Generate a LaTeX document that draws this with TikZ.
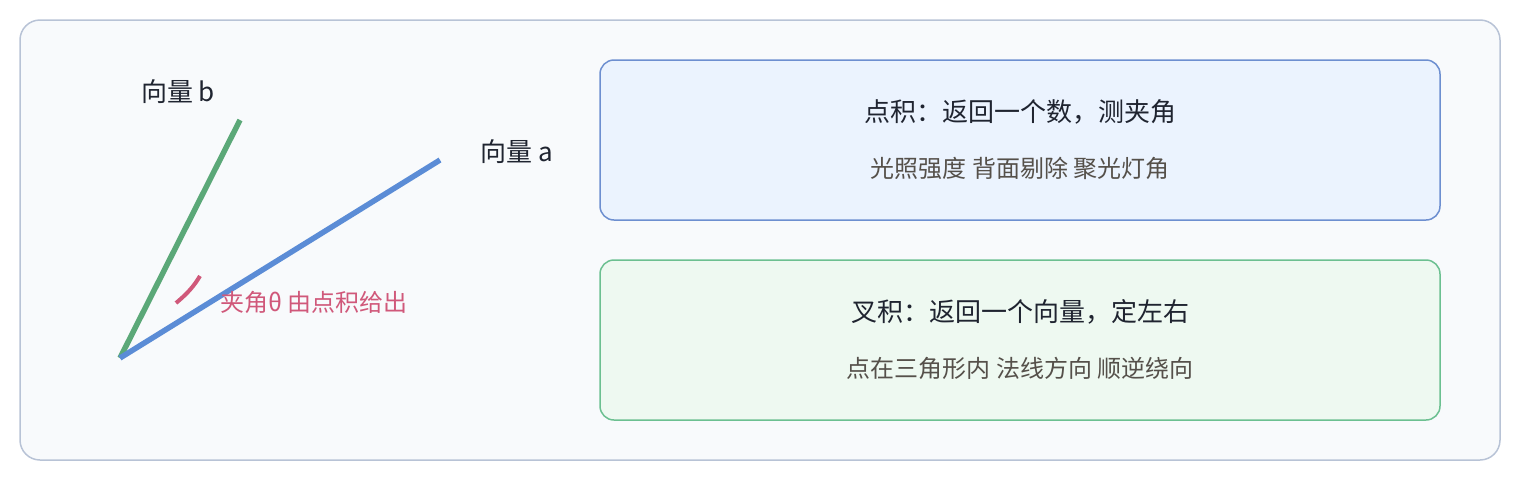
\documentclass[tikz,border=0pt]{standalone}
\usepackage{fontspec}
\setmainfont{Noto Sans CJK SC}
\definecolor{outerfill}{HTML}{F8FAFC}
\definecolor{outerdraw}{HTML}{B8C3D6}
\definecolor{bluefill}{HTML}{EBF3FE}
\definecolor{bluedraw}{HTML}{6D8FD0}
\definecolor{greenfill}{HTML}{EEF9F1}
\definecolor{greendraw}{HTML}{6CC091}
\definecolor{vecblue}{HTML}{5B8CD6}
\definecolor{vecgreen}{HTML}{5BA878}
\definecolor{anglepink}{HTML}{D0587A}
\definecolor{darktext}{HTML}{1F2430}
\definecolor{subtext}{HTML}{55504A}
\tikzset{
  card/.style={rounded corners=14pt, line width=1.5pt, minimum width=840pt, minimum height=160pt, inner sep=0pt},
  titletext/.style={font=\fontsize{26pt}{30pt}\selectfont, text=darktext, inner sep=0pt},
  subtitletext/.style={font=\fontsize{24pt}{28pt}\selectfont, text=subtext, inner sep=0pt},
  veclabel/.style={font=\fontsize{26pt}{30pt}\selectfont, text=darktext, inner sep=0pt},
  vecline/.style={line width=5.5pt},
}
\begin{document}
\begin{tikzpicture}[x=1pt,y=-1pt]
\useasboundingbox (0,0) rectangle (1520,480);
\draw[rounded corners=20pt, line width=1.5pt, draw=outerdraw, fill=outerfill] (20,20) rectangle (1500,460);
\node[card, draw=bluedraw, fill=bluefill] (dot) at (1020,140) {};
\node[card, draw=greendraw, fill=greenfill] (cross) at (1020,340) {};
\node[titletext] (dott) at (1020,112) {点积：返回一个数，测夹角};
\node[subtitletext] (dots) at (1020,168) {光照强度 背面剔除 聚光灯角};
\node[titletext] (crosst) at (1020,312) {叉积：返回一个向量，定左右};
\node[subtitletext] (crosss) at (1020,368) {点在三角形内 法线方向 顺逆绕向};
\coordinate (O) at (120,358);
\coordinate (A) at (440,160);
\coordinate (B) at (240,120);
\draw[vecline, draw=vecgreen] (O) -- (B);
\draw[vecline, draw=vecblue] (O) -- (A);
\coordinate (arcs) at (176,303);
\coordinate (arce) at (200,276);
\draw[line width=4pt, draw=anglepink] (arcs) .. controls (188,293) and (194,286) .. (arce);
\node[veclabel] (lb) at (178,92) {向量 b};
\node[veclabel] (la) at (517,152) {向量 a};
\node[font=\fontsize{24pt}{28pt}\selectfont, text=anglepink, inner sep=0pt, anchor=west] (lt) at (220,302) {夹角θ 由点积给出};
\end{tikzpicture}
\end{document}
